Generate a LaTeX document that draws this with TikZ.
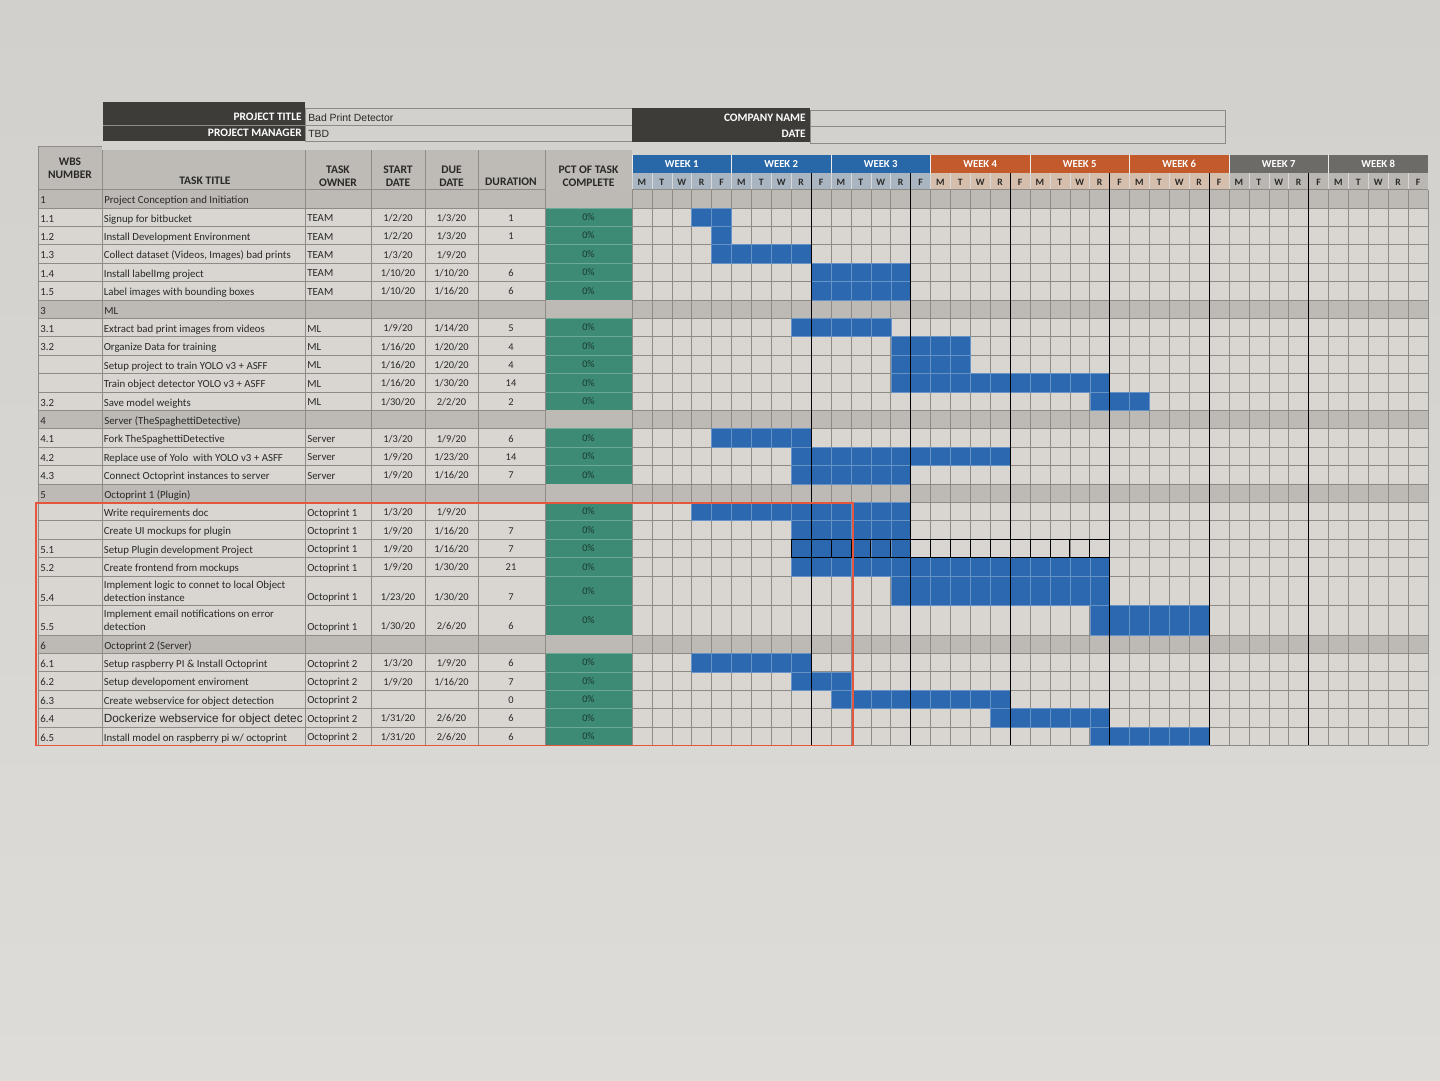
\documentclass[tikz,border=0pt]{standalone}
\usepackage{fontspec}
\setmainfont{Carlito}
\newfontfamily\arialfont{Liberation Sans}
\usepackage{xcolor}
\usepackage{tikz}

\definecolor{paperTop}{HTML}{D2D0CD}
\definecolor{paperBot}{HTML}{DEDCD9}
\definecolor{darkhdr}{HTML}{3D3C38}
\definecolor{hdrgray}{HTML}{BEBBB7}
\definecolor{secgray}{HTML}{BDBAB6}
\definecolor{rowlight}{HTML}{D9D6D2}
\definecolor{pctgreen}{HTML}{3E8B75}
\definecolor{barblue}{HTML}{2C68B0}
\definecolor{wkblue}{HTML}{2868A8}
\definecolor{wkorange}{HTML}{C25A2C}
\definecolor{wkgray}{HTML}{6D6B68}
\definecolor{dayblue}{HTML}{A9B5C0}
\definecolor{dayorange}{HTML}{D5BEAC}
\definecolor{daygray}{HTML}{BAB7B3}
\definecolor{gridline}{HTML}{8E8B87}
\definecolor{inktext}{HTML}{2A2927}
\definecolor{markred}{HTML}{E4573C}

\begin{document}
\begin{tikzpicture}[x=0.025cm, y=-0.025cm,
  every node/.style={inner sep=0pt, text=inktext, font=\fontsize{7.7}{9.2}\selectfont},
  grid line/.style={draw=gridline, line width=0.35pt},
  dark label/.style={anchor=east, text=white, font=\bfseries\fontsize{8.1}{9}\selectfont},
  value label/.style={anchor=west, font=\arialfont\fontsize{7.4}{8}\selectfont},
  head label/.style={align=center, font=\bfseries\fontsize{8.2}{9.2}\selectfont},
  week label/.style={text=white, font=\bfseries\fontsize{7.6}{8}\selectfont},
  day label/.style={font=\bfseries\fontsize{6.9}{7}\selectfont},
  cell text/.style={anchor=south west, align=left, text depth=1.8pt},
  mid text/.style={anchor=base, font=\fontsize{7.4}{8}\selectfont},
  pct text/.style={text=pctgreen!40!black, font=\fontsize{7.2}{8}\selectfont},
  bar cell/.style={fill=barblue, draw=barblue!72!white, line width=0.3pt}]

\shade[top color=paperTop, bottom color=paperBot] (0,0) rectangle (1440,1080);
\useasboundingbox (0,0) rectangle (1440,1080);

% project info
\fill[darkhdr] (103,102) rectangle (305,141);
\draw[gridline, line width=0.3pt] (103,125) -- (305,125);
\draw[grid line] (305,108) rectangle (632,141) (305,125) -- (632,125);
\node[dark label] (ptitle) at (302,117) {PROJECT TITLE};
\node[dark label] (pmanager) at (302,133) {PROJECT MANAGER};
\node[value label] (ptitle-val) at (308,118) {Bad Print Detector};
\node[value label] (pmanager-val) at (308,134) {TBD};
\fill[darkhdr] (632,108) rectangle (810,142);
\draw[grid line] (810,110) rectangle (1225,143) (810,126) -- (1225,126);
\node[dark label] (company) at (806,117.5) {COMPANY NAME};
\node[dark label] (date) at (806,134) {DATE};

% table head
\fill[hdrgray] (38,146) rectangle (102,190) (102,150) rectangle (632,190);
\node[head label] (h-wbs) at (70,168) {WBS\\NUMBER};
\node[head label] (h-title) at (205,180.5) {TASK TITLE};
\node[head label] (h-owner) at (338,176) {TASK\\OWNER};
\node[head label] (h-start) at (398,176) {START\\DATE};
\node[head label] (h-due) at (451.5,176) {DUE\\DATE};
\node[head label] (h-dur) at (511,182) {DURATION};
\node[head label] (h-pct) at (588.5,176) {PCT OF TASK\\COMPLETE};
\foreach \w/\wc/\dc in {0/wkblue/dayblue, 1/wkblue/dayblue, 2/wkblue/dayblue, 3/wkorange/dayorange,
    4/wkorange/dayorange, 5/wkorange/dayorange, 6/wkgray/daygray, 7/wkgray/daygray}{
  \fill[\wc] ({632+99.5*\w},155) rectangle ++(99.5,18);
  \fill[\dc] ({632+99.5*\w},173) rectangle ++(99.5,17);
  \draw[white!85!gray, line width=0.5pt] ({632+99.5*\w},155) -- ++(0,18);
  \node[week label] (week-\w) at ({632+99.5*\w+49.75},164) {WEEK \the\numexpr\w+1\relax};
  \foreach \dl [count=\j from 0] in {M,T,W,R,F}{
    \draw[white!70!gray, line width=0.35pt] ({632+99.5*\w+19.9*\j},173) -- ++(0,17);
    \node[day label] (day-\w-\j) at ({632+99.5*\w+19.9*\j+9.95},182) {\dl};
  }
}

% section rows
\foreach \y/\n/\t [count=\i] in {189.5/1/Project Conception and Initiation, 299.9/3/ML,
    410.3/4/Server (TheSpaghettiDetective), 483.9/5/Octoprint 1 (Plugin), 634.9/6/Octoprint 2 (Server)}{
  \fill[secgray] (38,\y) rectangle (1428,{\y+18.4});
  \node[cell text] (sec-num-\i) at (40,{\y+17}) {\n};
  \node[cell text] (sec-title-\i) at (104,{\y+17}) {\t};
}

% task rows: top/height/wbs/title/owner/start/due/duration/first cell/last cell
\foreach \y/\h/\n/\t/\o/\s/\d/\u/\a/\b [count=\i] in {
  207.9/18.4/1.1/Signup for bitbucket/TEAM/{1/2/20}/{1/3/20}/1/3/4,
  226.3/18.4/1.2/Install Development Environment/TEAM/{1/2/20}/{1/3/20}/1/4/4,
  244.7/18.4/1.3/{Collect dataset (Videos, Images) bad prints}/TEAM/{1/3/20}/{1/9/20}//4/8,
  263.1/18.4/1.4/Install labelImg project/TEAM/{1/10/20}/{1/10/20}/6/9/13,
  281.5/18.4/1.5/Label images with bounding boxes/TEAM/{1/10/20}/{1/16/20}/6/9/13,
  318.3/18.4/3.1/Extract bad print images from videos/ML/{1/9/20}/{1/14/20}/5/8/12,
  336.7/18.4/3.2/Organize Data for training/ML/{1/16/20}/{1/20/20}/4/13/16,
  355.1/18.4//Setup project to train YOLO v3 + ASFF/ML/{1/16/20}/{1/20/20}/4/13/16,
  373.5/18.4//Train object detector YOLO v3 + ASFF/ML/{1/16/20}/{1/30/20}/14/13/23,
  391.9/18.4/3.2/Save model weights/ML/{1/30/20}/{2/2/20}/2/23/25,
  428.7/18.4/4.1/Fork TheSpaghettiDetective/Server/{1/3/20}/{1/9/20}/6/4/8,
  447.1/18.4/4.2/Replace use of Yolo\ \ with YOLO v3 + ASFF/Server/{1/9/20}/{1/23/20}/14/8/18,
  465.5/18.4/4.3/Connect Octoprint instances to server/Server/{1/9/20}/{1/16/20}/7/8/13,
  502.3/18.4//Write requirements doc/Octoprint 1/{1/3/20}/{1/9/20}//3/13,
  520.7/18.4//Create UI mockups for plugin/Octoprint 1/{1/9/20}/{1/16/20}/7/8/13,
  539.1/18.4/5.1/Setup Plugin development Project/Octoprint 1/{1/9/20}/{1/16/20}/7/8/13,
  557.5/18.4/5.2/Create frontend from mockups/Octoprint 1/{1/9/20}/{1/30/20}/21/8/23,
  575.9/29.5/5.4/{Implement logic to connet to local Object\\detection instance}/Octoprint 1/{1/23/20}/{1/30/20}/7/13/23,
  605.4/29.5/5.5/{Implement email notifications on error\\detection}/Octoprint 1/{1/30/20}/{2/6/20}/6/23/28,
  653.3/18.4/6.1/Setup raspberry PI \& Install Octoprint/Octoprint 2/{1/3/20}/{1/9/20}/6/3/8,
  671.7/18.4/6.2/Setup developoment enviroment/Octoprint 2/{1/9/20}/{1/16/20}/7/8/10,
  690.1/18.4/6.3/Create webservice for object detection/Octoprint 2///0/10/18,
  708.5/18.4/6.4/{\arialfont\fontsize{8.4}{9}\selectfont Dockerize webservice for object detec}/Octoprint 2/{1/31/20}/{2/6/20}/6/18/23,
  726.9/18.4/6.5/{Install model on raspberry pi w/ octoprint}/Octoprint 2/{1/31/20}/{2/6/20}/6/23/28}{
  \fill[rowlight] (38,\y) rectangle (1428,{\y+\h});
  \fill[pctgreen] (545,\y) rectangle (632,{\y+\h});
  \draw[pctgreen!75!white, line width=0.3pt] (545,\y) -- (632,\y);
  \node[cell text] (num-\i) at (40,{\y+\h-1.4}) {\n};
  \node[cell text] (title-\i) at (103.5,{\y+\h-1.4}) {\t};
  \node[cell text] (owner-\i) at (307,{\y+\h-1.8}) {\o};
  \node[mid text] (start-\i) at (398,{\y+\h-5}) {\s};
  \node[mid text] (due-\i) at (451.5,{\y+\h-5}) {\d};
  \node[mid text] (dur-\i) at (511,{\y+\h-5}) {\u};
  \node[pct text] (pct-\i) at (588.5,{\y+\h/2}) {0\%};
}

% grid
\foreach \y in {189.5,207.9,226.3,244.7,263.1,281.5,299.9,318.3,336.7,355.1,373.5,391.9,410.3,
    428.7,447.1,465.5,483.9,502.3,520.7,539.1,557.5,575.9,605.4,634.9,653.3,671.7,690.1,708.5,726.9,745.3}
  \draw[grid line] (38,\y) -- (545,\y) (632,\y) -- (1428,\y);
\foreach \k in {0,...,40}
  \draw[grid line] ({632+19.9*\k},190) -- ({632+19.9*\k},745.3);
\foreach \x in {102,305,371,425,478,545}
  \draw[grid line] (\x,150) -- (\x,745.3);
\draw[grid line] (38,146) -- (38,745.3) (102,146) -- (38,146);

% bars: top/height/first cell/last cell
\foreach \y/\h/\a/\b in {207.9/18.4/3/4, 226.3/18.4/4/4, 244.7/18.4/4/8, 263.1/18.4/9/13, 281.5/18.4/9/13,
    318.3/18.4/8/12, 336.7/18.4/13/16, 355.1/18.4/13/16, 373.5/18.4/13/23, 391.9/18.4/23/25,
    428.7/18.4/4/8, 447.1/18.4/8/18, 465.5/18.4/8/13, 502.3/18.4/3/13, 520.7/18.4/8/13,
    539.1/18.4/8/13, 557.5/18.4/8/23, 575.9/29.5/13/23, 605.4/29.5/23/28, 653.3/18.4/3/8,
    671.7/18.4/8/10, 690.1/18.4/10/18, 708.5/18.4/18/23, 726.9/18.4/23/28}
  \foreach \c in {\a,...,\b}
    \draw[bar cell] ({632+19.9*\c},\y) rectangle ++(19.9,\h);

% heavy lines
\foreach \k in {9,14,19,24,29,34}
  \draw[black, line width=0.6pt] ({632+19.9*\k},173) -- ({632+19.9*\k},745.3);
\foreach \c in {8,...,23}
  \draw[black, line width=0.5pt] ({632+19.9*\c},539.1) rectangle ++(19.9,18.4);

\draw[markred, line width=0.9pt] (36,503) rectangle (853,745.8);
\end{tikzpicture}
\end{document}
